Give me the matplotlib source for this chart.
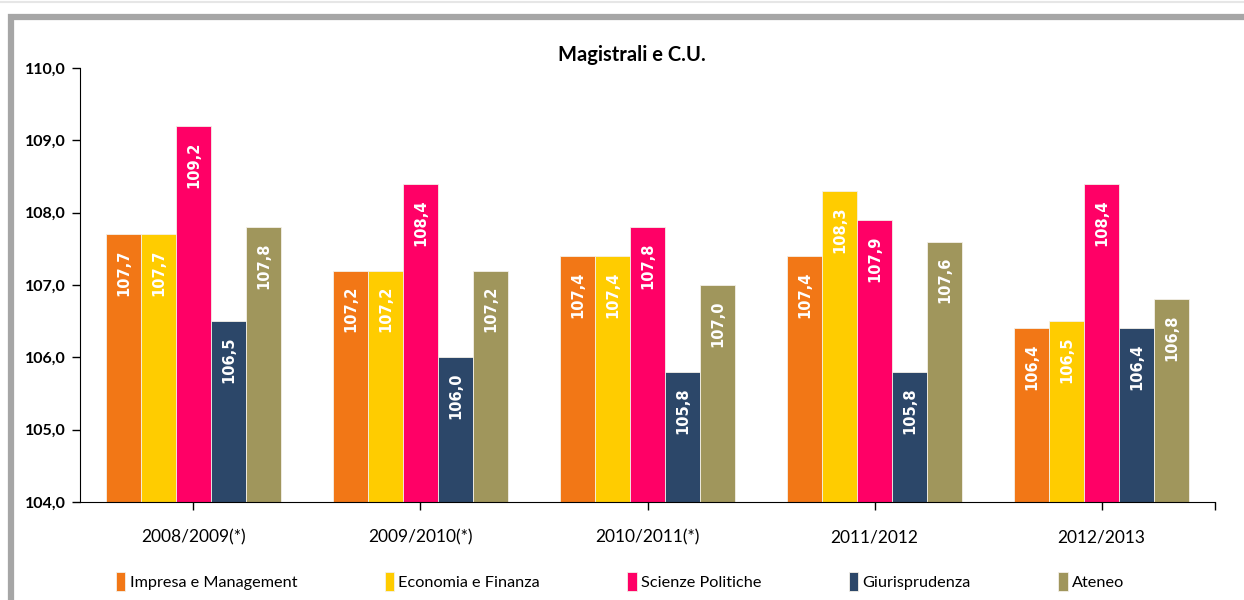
import matplotlib.pyplot as plt
import numpy as np
from matplotlib.patches import Rectangle

plt.rcParams['font.family'] = ['Lato', 'DejaVu Sans']

years = ['2008/2009(*)', '2009/2010(*)', '2010/2011(*)', '2011/2012', '2012/2013']
series = ['Impresa e Management', 'Economia e Finanza', 'Scienze Politiche',
          'Giurisprudenza', 'Ateneo']
impresa = [107.7, 107.2, 107.4, 107.4, 106.4]
economia = [107.7, 107.2, 107.4, 108.3, 106.5]
scienze = [109.2, 108.4, 107.8, 107.9, 108.4]
giuris = [106.5, 106.0, 105.8, 105.8, 106.4]
ateneo = [107.8, 107.2, 107.0, 107.6, 106.8]
colors = ['#F27716', '#FFCC00', '#FF0066', '#2C4769', '#A0965C']

fig = plt.figure(figsize=(12.44, 6.0), dpi=100)
ax = fig.add_axes([0.0643, 0.1633, 0.9124, 0.7234])

# grey frame round the chart area
fig.patches.append(Rectangle((0.0088, -0.05), 1.05, 1.0225, transform=fig.transFigure,
                             fill=False, edgecolor='#a6a6a6', lw=4.5, zorder=0))
fig.add_artist(plt.Line2D([0, 1], [0.997, 0.997], color='#e6e6e6', lw=1.5))

x = np.arange(len(years))
w = 0.154
data = [impresa, economia, scienze, giuris, ateneo]
for i, vals in enumerate(data):
    pos = x + (i - 2) * w
    bars = ax.bar(pos, np.array(vals) - 104, w, bottom=104, color=colors[i],
                  edgecolor='#f4f0e8', linewidth=0.6, label=series[i], zorder=2)
    for b, v in zip(bars, vals):
        ax.annotate(f'{v:.1f}'.replace('.', ','),
                    (b.get_x() + b.get_width() / 2, v), xytext=(0, -11),
                    textcoords='offset points', rotation=90, ha='center', va='top',
                    color='white', fontsize=10.5, fontweight='bold',
                    family='DejaVu Sans', zorder=3)

ax.set_xlim(-0.5, 4.5)
ax.set_ylim(104, 110)
ax.set_yticks(np.arange(104, 110.1, 1))
ax.set_yticklabels([f'{t:.1f}'.replace('.', ',') for t in np.arange(104, 110.1, 1)],
                   fontsize=11.5, fontweight='bold')
ax.set_xticks(list(x) + [4.5])
ax.set_xticklabels(years + [''], fontsize=12.5)
ax.tick_params(axis='x', length=6, width=1, pad=14)
ax.tick_params(axis='y', length=6, width=1, pad=4)
ax.spines['top'].set_visible(False)
ax.spines['right'].set_visible(False)
ax.spines['left'].set_zorder(4)
ax.spines['bottom'].set_zorder(4)

fig.text(0.508, 0.908, 'Magistrali e C.U.', fontsize=14.5, fontweight='bold',
         ha='center', va='center')

ax.legend(loc='center left', bbox_to_anchor=(0.019, -0.184), ncol=5, frameon=False,
          fontsize=11.7, handlelength=0.57, handleheight=1.4, handletextpad=0.25,
          columnspacing=5.4)

fig.savefig('out.png', dpi=100)
